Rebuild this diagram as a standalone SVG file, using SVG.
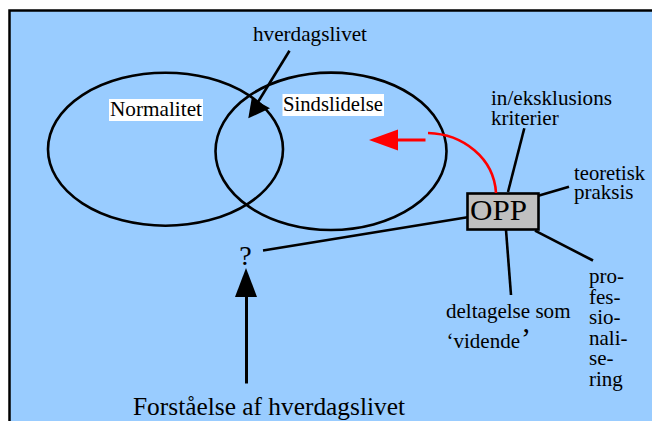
<svg xmlns="http://www.w3.org/2000/svg" width="652" height="421" viewBox="0 0 652 421">
<style>
.t{font-family:"Liberation Serif","Times New Roman",serif;fill:#000;}
.ln{stroke:#000;stroke-width:2.6;fill:none;}
.ell{stroke:#000;stroke-width:2.6;fill:none;}
</style>
<rect x="0" y="0" width="652" height="421" fill="#fff"/>
<rect x="9.5" y="10.5" width="660" height="430" fill="#99CCFF" stroke="#000" stroke-width="2.5"/>
<g id="normalitet">
<ellipse class="ell" cx="165.5" cy="149.2" rx="117.5" ry="76.5"/>
<rect x="109" y="99" width="94" height="22" fill="#fff"/>
<text class="t" x="110" y="116" font-size="21" textLength="92" lengthAdjust="spacingAndGlyphs">Normalitet</text>
</g>
<g id="sindslidelse">
<ellipse class="ell" cx="331" cy="151.3" rx="115.5" ry="78.7"/>
<rect x="282.5" y="94" width="101.5" height="22" fill="#fff"/>
<text class="t" x="283" y="110.5" font-size="21" textLength="100" lengthAdjust="spacingAndGlyphs">Sindslidelse</text>
</g>
<g id="hverdagslivet">
<text class="t" x="253" y="41" font-size="21" textLength="114" lengthAdjust="spacingAndGlyphs">hverdagslivet</text>
</g>
<g id="opp">
<rect x="467.5" y="193.5" width="71" height="36" fill="#C0C0C0" stroke="#000" stroke-width="2.6"/>
<text class="t" x="470" y="219.5" font-size="30" textLength="57" lengthAdjust="spacingAndGlyphs">OPP</text>
</g>
<g id="inekskl">
<text class="t" font-size="21"><tspan x="491" y="105" textLength="121" lengthAdjust="spacingAndGlyphs">in/eksklusions</tspan><tspan x="491" y="125">kriterier</tspan></text>
</g>
<g id="teoretisk">
<text class="t" font-size="21"><tspan x="574" y="180" textLength="71" lengthAdjust="spacingAndGlyphs">teoretisk</tspan><tspan x="574" y="199">praksis</tspan></text>
</g>
<g id="deltagelse">
<text class="t" font-size="21"><tspan x="446" y="317.5" textLength="124.5" lengthAdjust="spacingAndGlyphs">deltagelse som</tspan><tspan x="446.5" y="347.5">‘vidende</tspan><tspan font-size="30" dx="1">’</tspan></text>
</g>
<g id="professionalisering">
<text class="t" font-size="21"><tspan x="589" y="283">pro-</tspan><tspan x="589" y="303.5">fes-</tspan><tspan x="589" y="324">sio-</tspan><tspan x="589" y="344.5">nali-</tspan><tspan x="589" y="365">se-</tspan><tspan x="589" y="385.5">ring</tspan></text>
</g>
<g id="question">
<text class="t" x="245.5" y="264.5" font-size="28" text-anchor="middle">?</text>
</g>
<g id="forstaaelse">
<text class="t" x="133" y="415" font-size="25" textLength="272" lengthAdjust="spacingAndGlyphs">Forståelse af hverdagslivet</text>
</g>
<g id="connectors">
<line class="ln" x1="289.5" y1="50.7" x2="258" y2="102"/>
<polygon points="248.3,118.3 251.7,98.3 270,108.3" fill="#000"/>
<path d="M428,133 C463,134 494,158 496,193" stroke="#f00" stroke-width="2.6" fill="none"/>
<line x1="425.5" y1="140" x2="396" y2="140" stroke="#f00" stroke-width="3"/>
<polygon points="369,140 398,129.5 398,150.5" fill="#f00"/>
<line class="ln" x1="508" y1="192" x2="524.3" y2="128.3"/>
<line class="ln" x1="538.3" y1="195.7" x2="569" y2="186.7"/>
<line class="ln" x1="467.5" y1="217.3" x2="263" y2="250.5"/>
<line class="ln" x1="506" y1="230" x2="511" y2="295"/>
<line class="ln" x1="535" y1="230.7" x2="593" y2="260.5"/>
<line x1="246.5" y1="383.5" x2="246.5" y2="294" stroke="#000" stroke-width="3"/>
<polygon points="246,268 235,297 257,297" fill="#000"/>
</g>
</svg>
